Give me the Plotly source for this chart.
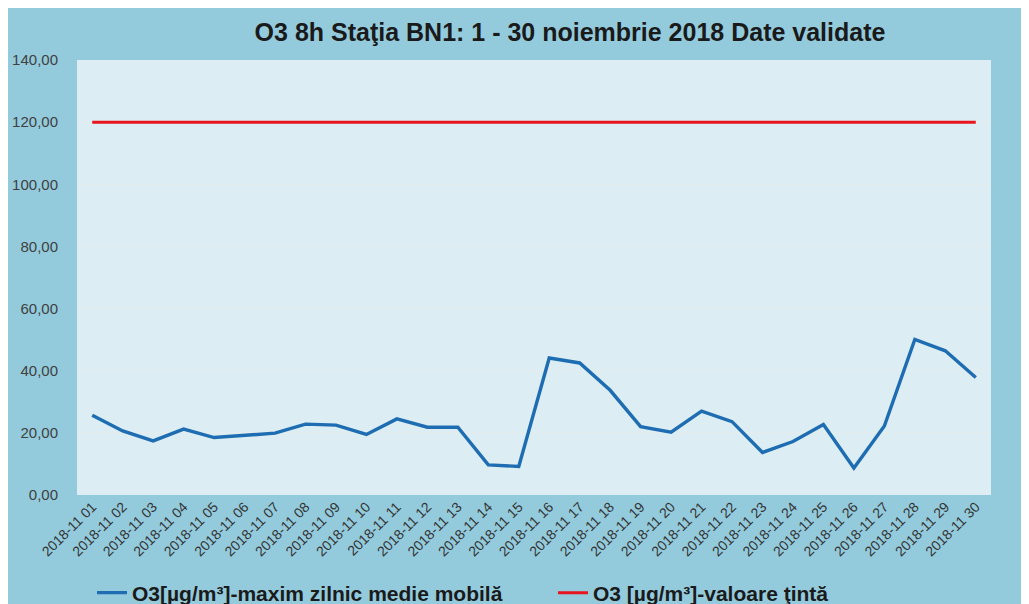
import plotly.graph_objects as go

days = [f"2018-11 {d:02d}" for d in range(1, 31)]
o3_max = [25.7, 20.6, 17.4, 21.2, 18.5, 19.3, 19.9, 22.8, 22.5, 19.5,
          24.5, 21.8, 21.8, 9.7, 9.2, 44.1, 42.5, 33.7, 22.0, 20.2,
          27.0, 23.6, 13.7, 17.2, 22.7, 8.7, 22.2, 50.1, 46.4, 37.8]
target = [120.0] * 30
y_ticks = [0, 20, 40, 60, 80, 100, 120, 140]

name_blue = "O3[µg/m³]-maxim zilnic medie mobilă"
name_red = "O3 [µg/m³]-valoare ţintă"
title = "O3 8h Staţia BN1: 1 - 30 noiembrie 2018 Date validate"

# figure coordinates (page shows it offset by the 8px body margin)
L, R, T, B = 69, 46, 52, 117
W, H = 1029, 604
pw, ph = W - L - R, H - T - B


def px_x(px):
    return (px - L) / pw


def px_y(py):
    return (H - B - py) / ph


fig = go.Figure()
fig.add_trace(go.Scatter(x=days, y=o3_max, mode="lines", name=f"<b>{name_blue}</b>",
                         line=dict(color="#1E6DB2", width=3.4), legend="legend"))
fig.add_trace(go.Scatter(x=days, y=target, mode="lines", name=f"<b>{name_red}</b>",
                         line=dict(color="#E8141E", width=3), legend="legend2"))

leg_font = dict(size=21, color="#1a1a1a", family="Liberation Sans, Arial, sans-serif")

fig.update_layout(
    width=W, height=H,
    margin=dict(l=L, r=R, t=T, b=B, autoexpand=False),
    paper_bgcolor="#93CBDD",
    plot_bgcolor="#DCEEF3",
    separators=",.",
    font=dict(family="Liberation Sans, Arial, sans-serif", color="#333333"),
    title=dict(text=f"<b>{title}</b>", x=px_x(562), xref="paper", xanchor="center",
               y=1 - 24 / H, yanchor="middle",
               font=dict(size=25, color="#1a1a1a")),
    showlegend=True,
    legend=dict(orientation="h", x=px_x(84), xanchor="left",
                y=px_y(585), yanchor="middle", font=leg_font,
                bgcolor="rgba(0,0,0,0)", itemwidth=30),
    legend2=dict(orientation="h", x=px_x(545), xanchor="left",
                 y=px_y(585), yanchor="middle", font=leg_font,
                 bgcolor="rgba(0,0,0,0)", itemwidth=30),
    xaxis=dict(type="category", tickangle=-45, tickfont=dict(size=14, color="#333333"),
               showgrid=False, showline=False, ticks="", range=[-0.5, 29.5]),
    yaxis=dict(range=[0, 140], tickvals=y_ticks, tickformat=".2f",
               tickfont=dict(size=15, color="#404040"),
               showgrid=True, gridcolor="#E5ECEE", gridwidth=1,
               zeroline=False, showline=False, ticks="", ticklabelstandoff=18),
)

fig.write_html("out.html")
